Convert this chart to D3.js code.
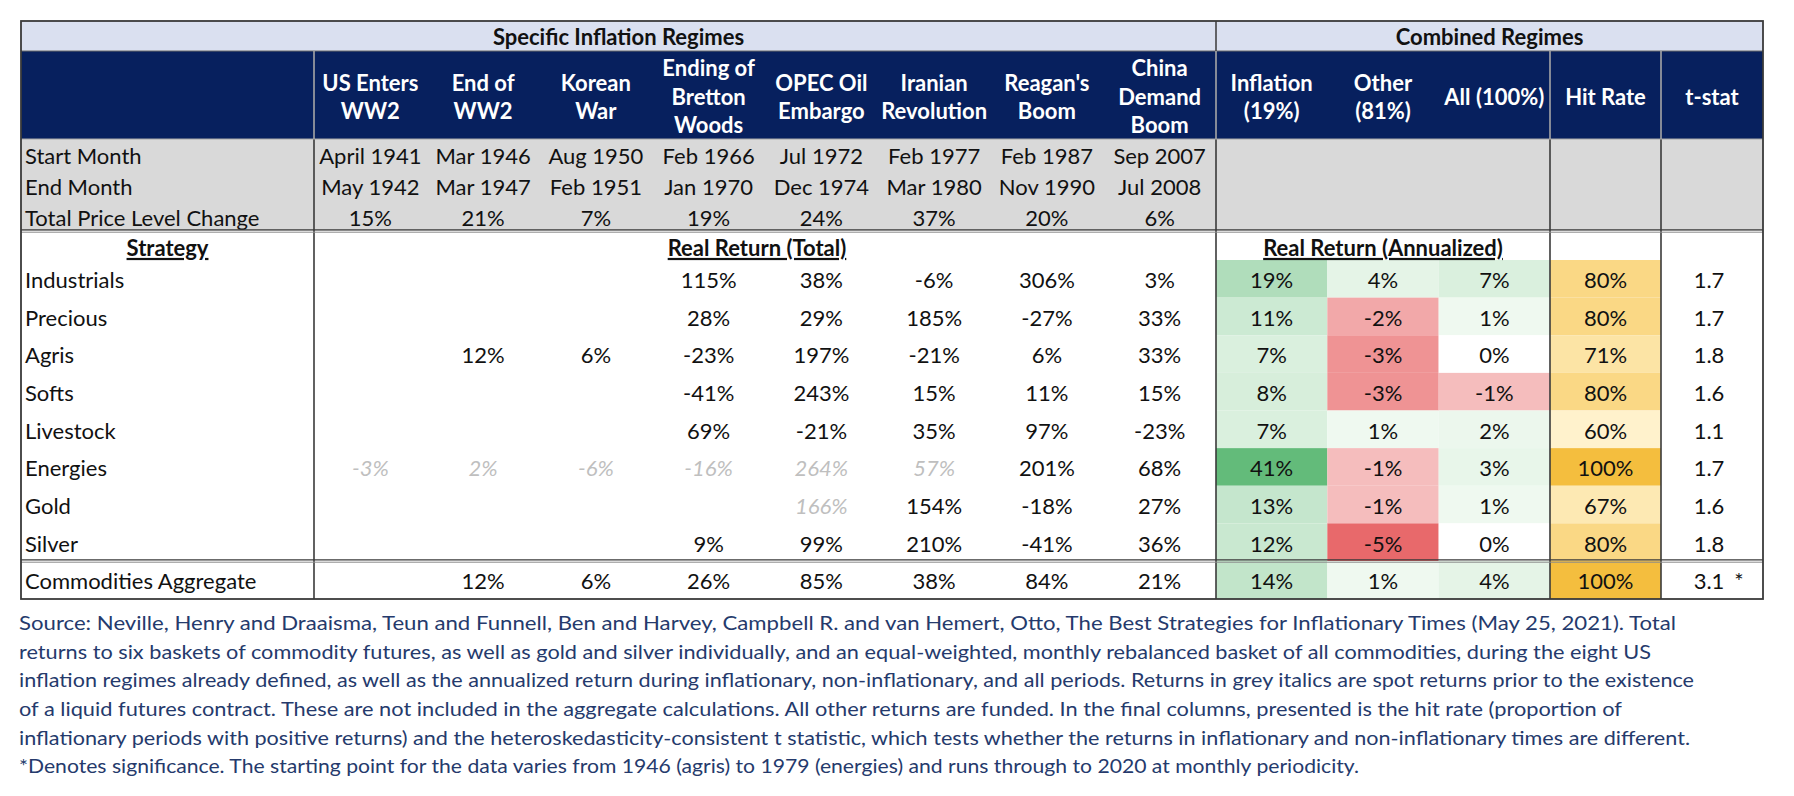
<!DOCTYPE html>
<html>
<head>
<meta charset="utf-8">
<script src="https://cdn.jsdelivr.net/npm/d3@7"></script>
<style>
  html, body { margin: 0; padding: 0; background: #ffffff; }
  svg { display: block; }
  text { font-family: Lato, Carlito, Calibri, "Open Sans", sans-serif; }
</style>
</head>
<body>
<svg id="chart" width="1794" height="796"></svg>
<script>
// ---------------- DATA ----------------
const regimes = ["US Enters\nWW2", "End of\nWW2", "Korean\nWar", "Ending of\nBretton\nWoods",
                 "OPEC Oil\nEmbargo", "Iranian\nRevolution", "Reagan's\nBoom", "China\nDemand\nBoom"];
const startMonths = ["April 1941", "Mar 1946", "Aug 1950", "Feb 1966", "Jul 1972", "Feb 1977", "Feb 1987", "Sep 2007"];
const endMonths   = ["May 1942", "Mar 1947", "Feb 1951", "Jan 1970", "Dec 1974", "Mar 1980", "Nov 1990", "Jul 2008"];
const priceLevelChange = [15, 21, 7, 19, 24, 37, 20, 6];
const infoLabels = ["Start Month", "End Month", "Total Price Level Change"];

const strategies = ["Industrials", "Precious", "Agris", "Softs", "Livestock", "Energies", "Gold", "Silver", "Commodities Aggregate"];

// Real return (total) per regime, one array per strategy (null = no data)
const industrials = [null, null, null, 115, 38, -6, 306, 3];
const precious    = [null, null, null, 28, 29, 185, -27, 33];
const agris       = [null, 12, 6, -23, 197, -21, 6, 33];
const softs       = [null, null, null, -41, 243, 15, 11, 15];
const livestock   = [null, null, null, 69, -21, 35, 97, -23];
const energies    = [-3, 2, -6, -16, 264, 57, 201, 68];
const gold        = [null, null, null, null, 166, 154, -18, 27];
const silver      = [null, null, null, 9, 99, 210, -41, 36];
const aggregate   = [null, 12, 6, 26, 85, 38, 84, 21];
// spot returns (grey italics) prior to liquid futures
const energiesSpot = [true, true, true, true, true, true, false, false];
const goldSpot     = [false, false, false, false, true, false, false, false];

// Combined regimes (annualized real return), hit rate, t-stat
const combinedHeaders = ["Inflation\n(19%)", "Other\n(81%)", "All (100%)"];
const inflationRet = [19, 11, 7, 8, 7, 41, 13, 12, 14];
const otherRet     = [4, -2, -3, -3, 1, -1, -1, -5, 1];
const allRet       = [7, 1, 0, -1, 2, 3, 1, 0, 4];
const hitRate      = [80, 80, 71, 80, 60, 100, 67, 80, 100];
const tStat        = [1.7, 1.7, 1.8, 1.6, 1.1, 1.7, 1.6, 1.8, 3.1];
const tStatSig     = [false, false, false, false, false, false, false, false, true];

const sourceLines = [
  "Source: Neville, Henry and Draaisma, Teun and Funnell, Ben and Harvey, Campbell R. and van Hemert, Otto, The Best Strategies for Inflationary Times (May 25, 2021). Total",
  "returns to six baskets of commodity futures, as well as gold and silver individually, and an equal-weighted, monthly rebalanced basket of all commodities, during the eight US",
  "inflation regimes already defined, as well as the annualized return during inflationary, non-inflationary, and all periods. Returns in grey italics are spot returns prior to the existence",
  "of a liquid futures contract. These are not included in the aggregate calculations. All other returns are funded. In the final columns, presented is the hit rate (proportion of",
  "inflationary periods with positive returns) and the heteroskedasticity-consistent t statistic, which tests whether the returns in inflationary and non-inflationary times are different.",
  "*Denotes significance. The starting point for the data varies from 1946 (agris) to 1979 (energies) and runs through to 2020 at monthly periodicity."
];
const sourceLineEnds = [1676, 1651, 1694, 1622, 1690, 1359];

// ---------------- LAYOUT ----------------
const svg = d3.select("#chart");
const L = 21, R = 1763, T = 21;
const labelRight = 314, combLeft = 1216, hitLeft = 1550, tLeft = 1661;
const yBand = 51, yHeadBottom = 139, yInfoBottom = 231, yRowsTop = 260, yAggTop = 561, yBottom = 599;

const FS = 22;
const navy = "#07205e", lightBand = "#dae0f0", grey = "#d9d9d9";
const lineDark = "#3a3a3a", lineLight = "#a6a6a6";

const rowsData = [industrials, precious, agris, softs, livestock, energies, gold, silver, aggregate];
const spotRows = {5: energiesSpot, 6: goldSpot};

const xReg = d3.scaleBand().domain(d3.range(regimes.length)).range([labelRight, combLeft]);
const xComb = d3.scaleBand().domain(d3.range(combinedHeaders.length)).range([combLeft, hitLeft]);
const yRow = d3.scaleBand().domain(d3.range(strategies.length - 1)).range([yRowsTop, yAggTop]);
const yInfo = d3.scaleBand().domain(d3.range(infoLabels.length)).range([yHeadBottom + 3, yInfoBottom + 3]);

const rowY = i => i < strategies.length - 1 ? yRow(i) : yAggTop;
const rowH = i => i < strategies.length - 1 ? yRow.bandwidth() : yBottom - yAggTop;
const rowC = i => rowY(i) + rowH(i) / 2;

const annColor = d3.scaleLinear()
  .domain([-5, -1, 0, 1, 41])
  .range(["#e8696b", "#f5bdbd", "#ffffff", "#eff9f0", "#63bb7a"])
  .clamp(true);
const hitColor = d3.scaleLinear().domain([60, 100]).range(["#fff2cc", "#f4be3e"]);

const pct = v => v + "%";

// backgrounds
svg.append("rect").attr("x", L).attr("y", T).attr("width", R - L).attr("height", yBand - T).attr("fill", lightBand);
svg.append("rect").attr("x", L).attr("y", yBand).attr("width", R - L).attr("height", yHeadBottom - yBand).attr("fill", navy);
svg.append("rect").attr("x", L).attr("y", yHeadBottom).attr("width", R - L).attr("height", yInfoBottom - yHeadBottom).attr("fill", grey);

// coloured cells
const combSeries = [inflationRet, otherRet, allRet];
combSeries.forEach((series, c) => {
  svg.append("g").selectAll("rect").data(series).join("rect")
    .attr("x", xComb(c)).attr("width", xComb.bandwidth())
    .attr("y", (d, i) => rowY(i)).attr("height", (d, i) => rowH(i))
    .attr("fill", d => annColor(d));
});
svg.append("g").selectAll("rect").data(hitRate).join("rect")
  .attr("x", hitLeft).attr("width", tLeft - hitLeft)
  .attr("y", (d, i) => rowY(i)).attr("height", (d, i) => rowH(i))
  .attr("fill", d => hitColor(d));

// ---------------- TEXT ----------------
function txt(x, y, s, opts = {}) {
  const t = svg.append("text").attr("x", x).attr("y", y).attr("dy", "0.36em")
    .attr("text-anchor", opts.anchor || "middle")
    .attr("font-size", opts.size || FS)
    .attr("font-weight", opts.bold ? 700 : 400)
    .attr("fill", opts.color || "#111")
    .text(s);
  if (opts.italic) t.attr("font-style", "italic");
  if (opts.underline) t.style("text-decoration", "underline");
  return t;
}

// band titles
txt((L + combLeft) / 2, (T + yBand) / 2 + 1, "Specific Inflation Regimes", {bold: true});
txt((combLeft + R) / 2, (T + yBand) / 2 + 1, "Combined Regimes", {bold: true});

// header (multi-line, white)
const headCenter = (yBand + yHeadBottom) / 2 + 2, lineGap = 28.5;
function headText(cx, label) {
  const lines = label.split("\n");
  lines.forEach((ln, k) => {
    txt(cx, headCenter + (k - (lines.length - 1) / 2) * lineGap, ln, {bold: true, color: "#ffffff"});
  });
}
regimes.forEach((r, i) => headText(xReg(i) + xReg.bandwidth() / 2, r));
combinedHeaders.forEach((h, i) => headText(xComb(i) + xComb.bandwidth() / 2, h));
headText((hitLeft + tLeft) / 2, "Hit Rate");
headText((tLeft + R) / 2, "t-stat");

// info rows
const infoData = [startMonths, endMonths, priceLevelChange.map(pct)];
infoLabels.forEach((lab, k) => {
  const cy = yInfo(k) + yInfo.bandwidth() / 2 - 1;
  txt(L + 4, cy, lab, {anchor: "start"});
  infoData[k].forEach((v, i) => txt(xReg(i) + xReg.bandwidth() / 2, cy, v));
});

// sub-header row
const subC = (yInfoBottom + yRowsTop) / 2 + 2.5;
txt((L + labelRight) / 2, subC, "Strategy", {bold: true, underline: true});
txt(757, subC, "Real Return (Total)", {bold: true, underline: true});
txt((combLeft + hitLeft) / 2, subC, "Real Return (Annualized)", {bold: true, underline: true});

// strategy rows
const tCenter = (tLeft + R) / 2;
strategies.forEach((s, i) => {
  const cy = rowC(i) + 1.5;
  txt(L + 4, cy, s, {anchor: "start"});
  rowsData[i].forEach((v, c) => {
    if (v === null) return;
    const spot = spotRows[i] ? spotRows[i][c] : false;
    txt(xReg(c) + xReg.bandwidth() / 2, cy, pct(v), spot ? {italic: true, color: "#bfbfbf"} : {});
  });
  combSeries.forEach((series, c) => txt(xComb(c) + xComb.bandwidth() / 2, cy, pct(series[i])));
  txt((hitLeft + tLeft) / 2, cy, pct(hitRate[i]));
  txt(tCenter - 3, cy, d3.format(".1f")(tStat[i]));
  if (tStatSig[i]) txt(tCenter + 27, cy, "*");
});

// ---------------- LINES ----------------
const line = (x1, y1, x2, y2, c, w) => svg.append("line")
  .attr("x1", x1).attr("y1", y1).attr("x2", x2).attr("y2", y2)
  .attr("stroke", c).attr("stroke-width", w);

line(L, yBand, R, yBand, "#6b6b6b", 1.2);
line(combLeft, T, combLeft, yBand, lineDark, 1.5);
[labelRight, combLeft, hitLeft, tLeft].forEach(x => {
  line(x, yBand, x, yHeadBottom, lineLight, 1.6);
  line(x, yHeadBottom, x, yBottom, lineDark, 1.6);
});
line(L, yHeadBottom, R, yHeadBottom, lineLight, 1);
line(L, yInfoBottom - 1.2, R, yInfoBottom - 1.2, lineDark, 1.2);
line(L, yInfoBottom + 1.2, R, yInfoBottom + 1.2, "#8a8a8a", 1);
line(L, yAggTop - 1.2, R, yAggTop - 1.2, lineDark, 1.2);
line(L, yAggTop + 1.2, R, yAggTop + 1.2, "#8a8a8a", 1);
svg.append("rect").attr("x", L).attr("y", T).attr("width", R - L).attr("height", yBottom - T)
  .attr("fill", "none").attr("stroke", lineDark).attr("stroke-width", 1.8);

// ---------------- SOURCE NOTE ----------------
const srcX = 19, srcY0 = 623, srcGap = 28.6;
sourceLines.forEach((s, k) => {
  txt(srcX, srcY0 + k * srcGap, s, {anchor: "start", size: 20, color: "#253a6c"})
    .attr("textLength", sourceLineEnds[k] - srcX)
    .attr("lengthAdjust", "spacingAndGlyphs");
});
</script>
</body>
</html>
